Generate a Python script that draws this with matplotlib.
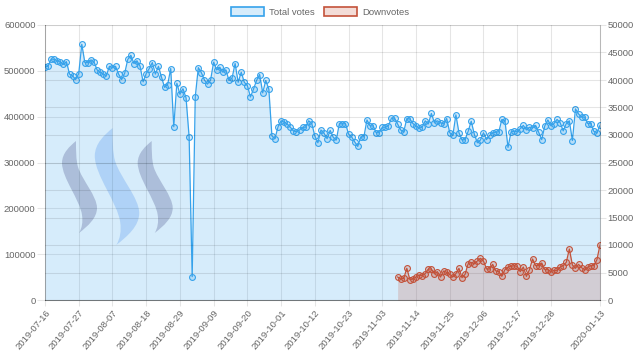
import numpy as np
import pandas as pd
import matplotlib.pyplot as plt
from matplotlib.patches import Patch, PathPatch
from matplotlib.path import Path
from matplotlib.transforms import Affine2D

plt.rcParams['font.family'] = ['Liberation Sans', 'DejaVu Sans']

# données (un point par jour)
dates = pd.date_range('2019-07-16', '2020-01-13', freq='D')

total_votes = [
    509000, 510000, 526000, 525000, 522000, 519000, 514000, 520000, 493000, 489000,
    481000, 494000, 558000, 518000, 518000, 524000, 519000, 502000, 497000, 493000,
    489000, 510000, 507000, 510000, 493000, 481000, 495000, 525000, 534000, 516000,
    522000, 510000, 476000, 494000, 505000, 518000, 493000, 510000, 486000, 464000,
    470000, 505000, 378000, 473000, 449000, 461000, 441000, 356000, 51000, 443000,
    507000, 496000, 480000, 471000, 480000, 519000, 502000, 508000, 497000, 502000,
    479000, 484000, 516000, 475000, 497000, 475000, 468000, 443000, 460000, 479000,
    492000, 452000, 479000, 460000, 358000, 352000, 378000, 391000, 388000, 384000,
    377000, 369000, 367000, 371000, 377000, 377000, 391000, 385000, 358000, 343000,
    371000, 364000, 352000, 370000, 355000, 349000, 385000, 384000, 385000, 362000,
    356000, 345000, 335000, 356000, 356000, 393000, 380000, 380000, 365000, 365000,
    377000, 377000, 380000, 397000, 397000, 384000, 371000, 367000, 396000, 395000,
    385000, 380000, 375000, 377000, 391000, 384000, 407000, 387000, 391000, 387000,
    384000, 396000, 365000, 359000, 404000, 365000, 349000, 350000, 368000, 390000,
    362000, 343000, 349000, 365000, 350000, 359000, 365000, 366000, 367000, 394000,
    391000, 333000, 367000, 368000, 367000, 374000, 381000, 371000, 377000, 375000,
    381000, 366000, 350000, 380000, 393000, 380000, 385000, 394000, 387000, 369000,
    385000, 391000, 348000, 417000, 406000, 399000, 399000, 385000, 385000, 368000,
    365000, 381000,
]

down_start = '2019-11-08'
downvotes = [
    4180, 3820, 3940, 5760, 3700, 3820, 4180, 4550, 4430, 4790,
    5640, 5640, 4790, 5150, 4180, 5270, 5030, 4670, 4180, 4790,
    5760, 4060, 4670, 6600, 6850, 6600, 7090, 7580, 7090, 5640,
    5640, 6480, 5300, 5150, 4300, 5520, 6000, 6120, 6240, 6120,
    5150, 6000, 4300, 5520, 7450, 6240, 6240, 6730, 5520, 5520,
    5150, 5390, 5390, 6000, 6240, 6850, 9270, 6360, 5760, 6480,
    5880, 5520, 6000, 6240, 6240, 7330, 10000,
]

tick_dates = ['2019-07-16', '2019-07-27', '2019-08-07', '2019-08-18', '2019-08-29',
              '2019-09-09', '2019-09-20', '2019-10-01', '2019-10-12', '2019-10-23',
              '2019-11-03', '2019-11-14', '2019-11-25', '2019-12-06', '2019-12-17',
              '2019-12-28', '2020-01-13']

left_ticks = [0, 100000, 200000, 300000, 400000, 500000, 600000]
right_ticks = [0, 5000, 10000, 15000, 20000, 25000, 30000, 35000, 40000, 45000, 50000]

# couleurs
blue = (54/255, 162/255, 235/255)
red = (195/255, 82/255, 58/255)
grid_c = (0, 0, 0, 0.1)
txt_c = '#666666'
fs = 6.8

x = np.arange(len(dates))
down = pd.Series(np.nan, index=dates)
down[down_start:] = downvotes
down_vals = down.values

fig = plt.figure(figsize=(6.4, 3.61), dpi=100)
ax = fig.add_axes([45/640, 61/361, 555/640, 275/361])
ax2 = ax.twinx()

# logo Steem en fond (décor)
px = Affine2D().scale(1/640, -1/361).translate(0, 1) + fig.transFigure
verts = [(76, 141),
         (70, 146), (62, 153), (62, 163),
         (62, 178), (80, 200), (82, 215),
         (83, 222), (82, 228), (79, 233),
         (88, 226), (97, 218), (97, 208),
         (97, 196), (82, 180), (78, 167),
         (76, 160), (76, 150), (76, 141),
         (76, 141)]
codes = [Path.MOVETO] + [Path.CURVE4] * 18 + [Path.CLOSEPOLY]
logo = Path(verts, codes)
for s, cx, cy, col in [(1.0, 79.5, 187, (202/255, 198/255, 214/255)),
                       (1.27, 117, 186.5, (206/255, 223/255, 250/255)),
                       (1.0, 155.2, 187, (202/255, 198/255, 214/255))]:
    tr = Affine2D().translate(-79.5, -187).scale(s).translate(cx, cy) + px
    ax.add_patch(PathPatch(logo, transform=tr, fc=col, ec='none', zorder=0.3))

# Total votes
ax.fill_between(x, 0, total_votes, color=blue, alpha=0.2, lw=0, zorder=1)
ax.plot(x, total_votes, color=blue, lw=0.9, marker='o', ms=4.2,
        mfc=blue + (0.2,), mec=blue, mew=0.8, zorder=2)

# Downvotes
ax2.fill_between(x, 0, down_vals, color=red, alpha=0.2, lw=0, zorder=1)
ax2.plot(x, down_vals, color=red, lw=0.9, marker='o', ms=4.2,
         mfc=red + (0.2,), mec=red, mew=0.8, zorder=2)

ax.set_xlim(0, len(dates) - 1)
ax.set_ylim(0, 600000)
ax2.set_ylim(0, 50000)

ax.set_yticks(left_ticks)
ax.set_yticklabels([str(v) for v in left_ticks])
ax2.set_yticks(right_ticks)
ax2.set_yticklabels([str(v) for v in right_ticks])

pos = [dates.get_loc(pd.Timestamp(d)) for d in tick_dates]
ax.set_xticks(pos)
ax.set_xticklabels(tick_dates, rotation=50, ha='right', rotation_mode='anchor')

ax.set_axisbelow(True)
ax.grid(True, color='k', alpha=0.1, lw=0.75)
ax2.grid(True, axis='y', color='k', alpha=0.1, lw=0.75)
ax2.set_axisbelow(True)

ax.tick_params(axis='y', length=5.8, width=0.75, color=grid_c, pad=1,
               labelsize=fs, labelcolor=txt_c)
ax.tick_params(axis='x', length=4, width=0.75, color=grid_c, pad=2,
               labelsize=fs, labelcolor=txt_c)
ax2.tick_params(axis='y', length=4.3, width=0.75, color=grid_c, pad=1,
                labelsize=fs, labelcolor=txt_c)

for a in (ax, ax2):
    a.spines['top'].set_visible(False)
    a.spines['left'].set_color((0, 0, 0, 0.15))
    a.spines['right'].set_color((0, 0, 0, 0.15))
    a.spines['bottom'].set_color((0, 0, 0, 0.3))
    for sp in a.spines.values():
        sp.set_linewidth(0.75)

handles = [Patch(fc=blue + (0.2,), ec=blue, lw=1.2, label='Total votes'),
           Patch(fc=red + (0.2,), ec=red, lw=1.2, label='Downvotes')]
fig.legend(handles=handles, loc='center', bbox_to_anchor=(0.5, 1 - 12/361),
           ncol=2, frameon=False, fontsize=fs, handlelength=3.5, handleheight=1.0,
           handletextpad=0.55, columnspacing=1.0, labelcolor=txt_c)

fig.savefig('out.png', dpi=100)
